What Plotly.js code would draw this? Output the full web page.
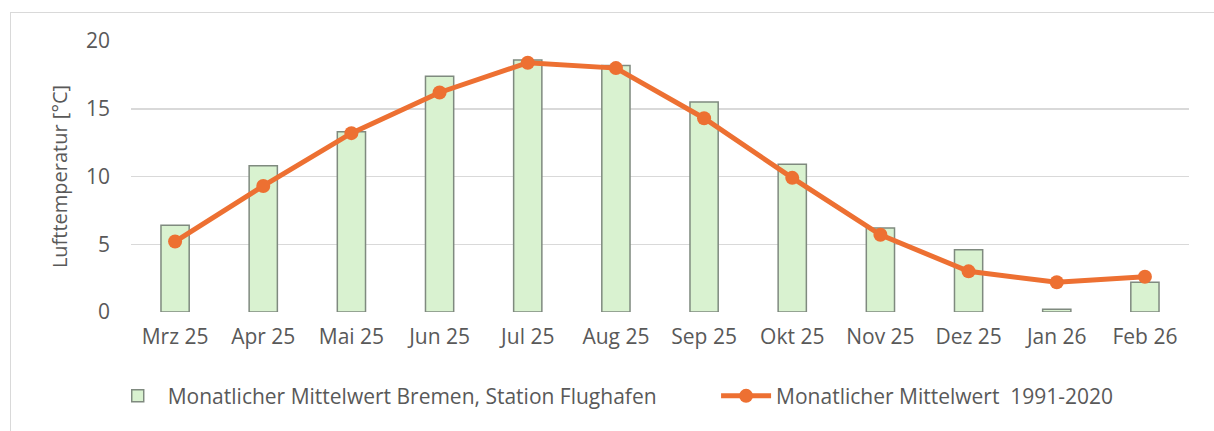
<!DOCTYPE html>
<html>
<head>
<meta charset="utf-8">
<script src="https://cdn.plot.ly/plotly-3.0.1.min.js"></script>
<style>
  html, body { margin: 0; padding: 0; background: #fff; }
  #wrap { position: relative; width: 1214px; height: 431px; }
  #chart { width: 1214px; height: 431px; }
  #frame { position: absolute; left: 10px; top: 12px; right: 0; bottom: 0;
           border-top: 1px solid #d9d9d9; border-left: 1px solid #d9d9d9; pointer-events: none; }
</style>
</head>
<body>
<div id="wrap">
  <div id="chart"></div>
  <div id="frame"></div>
</div>
<script>
const months = ["Mrz 25","Apr 25","Mai 25","Jun 25","Jul 25","Aug 25","Sep 25","Okt 25","Nov 25","Dez 25","Jan 26","Feb 26"];
const bremenMonthly = [6.4, 10.8, 13.3, 17.4, 18.6, 18.2, 15.5, 10.9, 6.2, 4.6, 0.2, 2.2];
const normal19912020 = [5.2, 9.3, 13.2, 16.2, 18.4, 18.0, 14.3, 9.9, 5.7, 3.0, 2.2, 2.6];
const yTicks = [0, 5, 10, 15, 20];
const barName = "Monatlicher Mittelwert Bremen, Station Flughafen";
const lineName = "Monatlicher Mittelwert  1991-2020";
const yTitle = "Lufttemperatur [°C]";

const axisFont = {family: "Open Sans, Roboto, sans-serif", size: 21, color: "#595959"};
const legendFont = {family: "Open Sans, Roboto, sans-serif", size: 21, color: "#595959"};

const traces = [
  {
    type: "bar", x: months, y: bremenMonthly, name: barName, legend: "legend",
    marker: {color: "#d9f2d0", line: {color: "#7f8a7f", width: 1.5}},
    width: 0.32
  },
  {
    type: "scatter", mode: "lines+markers", x: months, y: normal19912020, name: lineName, legend: "legend2",
    line: {color: "#ed7032", width: 5},
    marker: {color: "#ed7032", size: 14}
  }
];

const layout = {
  width: 1214, height: 431,
  margin: {l: 131, r: 25, t: 41, b: 119},
  paper_bgcolor: "rgba(0,0,0,0)", plot_bgcolor: "#fff",
  showlegend: true,
  xaxis: {
    type: "category", range: [-0.5, months.length - 0.5], autorange: false,
    tickfont: axisFont, showgrid: false, zeroline: false,
    showline: false, ticks: "", ticklabelstandoff: 10, fixedrange: true
  },
  yaxis: {
    range: [0, 20], autorange: false, tickvals: yTicks, tickfont: axisFont,
    showgrid: true, gridcolor: "#d9d9d9", gridwidth: 1.5, zeroline: false, showline: false,
    ticks: "", ticklabelstandoff: 20, automargin: false,
    title: {text: yTitle, font: {family: "Open Sans, Roboto, sans-serif", size: 20, color: "#595959"}, standoff: 12},
    fixedrange: true
  },
  legend: {
    orientation: "h", x: -0.022, xanchor: "left", y: -0.235, yanchor: "top",
    font: legendFont, itemwidth: 50
  },
  legend2: {
    orientation: "h", x: 0.553, xanchor: "left", y: -0.235, yanchor: "top",
    font: legendFont, itemwidth: 50
  }
};

Plotly.newPlot("chart", traces, layout, {displayModeBar: false, staticPlot: true});
</script>
</body>
</html>
